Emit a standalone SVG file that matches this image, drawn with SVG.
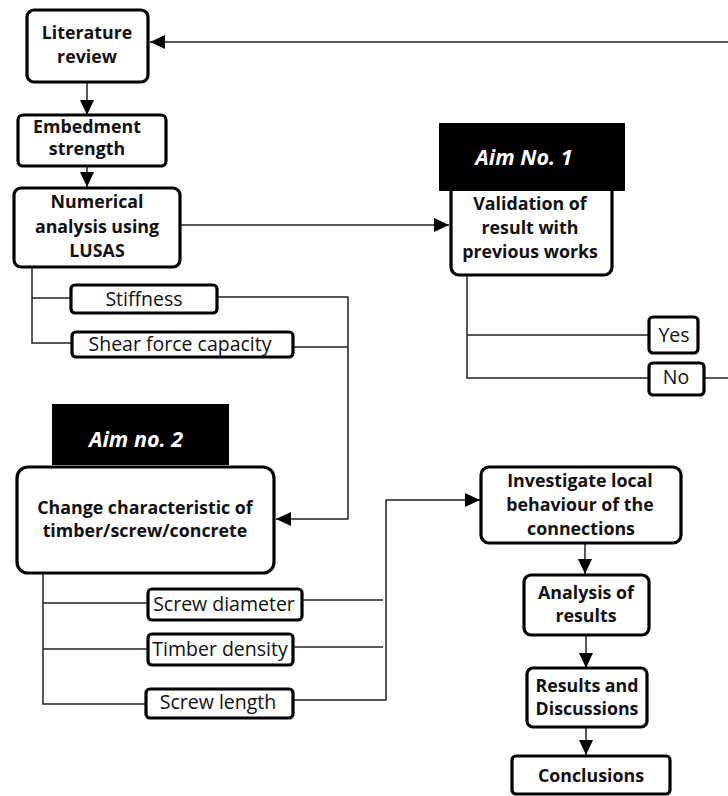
<svg xmlns="http://www.w3.org/2000/svg" width="728" height="796" viewBox="0 0 728 796">
<defs>
<marker id="arr" markerWidth="16" markerHeight="14" refX="15" refY="7" orient="auto" markerUnits="userSpaceOnUse">
<path d="M0,0 L15,7 L0,14 Z" fill="#000"/>
</marker>
<style>
.box{fill:#fff;stroke:#000;stroke-width:3.2}
.blk{fill:#000}
.ln{fill:none;stroke:#222;stroke-width:1.5}
.t{font-family:"Open Sans","Noto Sans","Liberation Sans",sans-serif;font-weight:bold;font-size:17.8px;fill:#111;text-anchor:middle}
.r{font-family:"Open Sans","Noto Sans","Liberation Sans",sans-serif;font-size:19.5px;fill:#111;text-anchor:middle}
.w{font-family:"Open Sans","Noto Sans","Liberation Sans",sans-serif;font-weight:bold;font-style:italic;font-size:21.5px;fill:#fff;text-anchor:middle}
</style>
</defs>
<g id="connectors">
<path class="ln" d="M728,42 L150,42" marker-end="url(#arr)"/>
<path class="ln" d="M87,82 L87,115" marker-end="url(#arr)"/>
<path class="ln" d="M87,166 L87,187" marker-end="url(#arr)"/>
<path class="ln" d="M180,225 L449,225" marker-end="url(#arr)"/>
<path class="ln" d="M467,275 L467,378 L649,378"/>
<path class="ln" d="M467,335 L649,335"/>
<path class="ln" d="M704,378 L728,378"/>
<path class="ln" d="M32,267 L32,343 L72,343"/>
<path class="ln" d="M32,298 L71,298"/>
<path class="ln" d="M217,297 L348,297 L348,519 L276,519" marker-end="url(#arr)"/>
<path class="ln" d="M293,347 L348,347"/>
<path class="ln" d="M43,573 L43,704 L146,704"/>
<path class="ln" d="M43,603 L148,603"/>
<path class="ln" d="M43,649 L148,649"/>
<path class="ln" d="M302,600 L383,600"/>
<path class="ln" d="M293,647 L383,647"/>
<path class="ln" d="M293,700 L386,700 L386,500 L480,500" marker-end="url(#arr)"/>
<path class="ln" d="M585,543 L585,574" marker-end="url(#arr)"/>
<path class="ln" d="M586,635 L586,668" marker-end="url(#arr)"/>
<path class="ln" d="M586,727 L586,755" marker-end="url(#arr)"/>
</g>
<g id="literature-review">
<rect class="box" x="27" y="10" width="121" height="72" rx="7"/>
<text class="t" x="87" y="39">Literature</text>
<text class="t" x="87" y="63">review</text>
</g>
<g id="embedment-strength">
<rect class="box" x="18" y="115" width="148" height="51" rx="5"/>
<text class="t" x="87" y="133">Embedment</text>
<text class="t" x="87" y="155">strength</text>
</g>
<g id="numerical-analysis">
<rect class="box" x="14" y="188" width="166" height="79" rx="7"/>
<text class="t" x="97" y="208">Numerical</text>
<text class="t" x="97" y="233">analysis using</text>
<text class="t" x="97" y="257">LUSAS</text>
</g>
<g id="validation">
<rect class="box" x="451" y="176" width="161" height="99" rx="8"/>
<rect class="blk" x="439" y="123" width="186" height="68"/>
<text class="w" x="524" y="165">Aim No. 1</text>
<text class="t" x="530" y="210">Validation of</text>
<text class="t" x="530" y="234">result with</text>
<text class="t" x="530" y="258">previous works</text>
</g>
<g id="yes">
<rect class="box" x="649" y="317" width="49" height="36" rx="4"/>
<text class="r" x="674" y="342">Yes</text>
</g>
<g id="no">
<rect class="box" x="649" y="363" width="55" height="32" rx="4"/>
<text class="r" x="676" y="384">No</text>
</g>
<g id="stiffness">
<rect class="box" x="71" y="285" width="146" height="28" rx="4"/>
<text class="r" x="144" y="306">Stiffness</text>
</g>
<g id="shear-force-capacity">
<rect class="box" x="72" y="332" width="221" height="25" rx="4"/>
<text class="r" x="180" y="351">Shear force capacity</text>
</g>
<g id="change-characteristic">
<rect class="box" x="17" y="467" width="257" height="106" rx="11"/>
<rect class="blk" x="52" y="404" width="177" height="61"/>
<text class="w" x="136" y="447">Aim no. 2</text>
<text class="t" x="145" y="514">Change characteristic of</text>
<text class="t" x="145" y="537">timber/screw/concrete</text>
</g>
<g id="screw-diameter">
<rect class="box" x="148" y="589" width="154" height="31" rx="4"/>
<text class="r" x="224" y="611">Screw diameter</text>
</g>
<g id="timber-density">
<rect class="box" x="148" y="634" width="145" height="31" rx="4"/>
<text class="r" x="220" y="656">Timber density</text>
</g>
<g id="screw-length">
<rect class="box" x="146" y="689" width="147" height="29" rx="4"/>
<text class="r" x="218" y="709">Screw length</text>
</g>
<g id="investigate">
<rect class="box" x="481" y="467" width="200" height="76" rx="8"/>
<text class="t" x="580" y="487">Investigate local</text>
<text class="t" x="580" y="511">behaviour of the</text>
<text class="t" x="581" y="535">connections</text>
</g>
<g id="analysis-of-results">
<rect class="box" x="524" y="575" width="125" height="60" rx="7"/>
<text class="t" x="586" y="599">Analysis of</text>
<text class="t" x="586" y="622">results</text>
</g>
<g id="results-and-discussions">
<rect class="box" x="527" y="668" width="120" height="59" rx="6"/>
<text class="t" x="587" y="692">Results and</text>
<text class="t" x="587" y="715">Discussions</text>
</g>
<g id="conclusions">
<rect class="box" x="512" y="756" width="158" height="38" rx="4"/>
<text class="t" x="591" y="782">Conclusions</text>
</g>
</svg>
